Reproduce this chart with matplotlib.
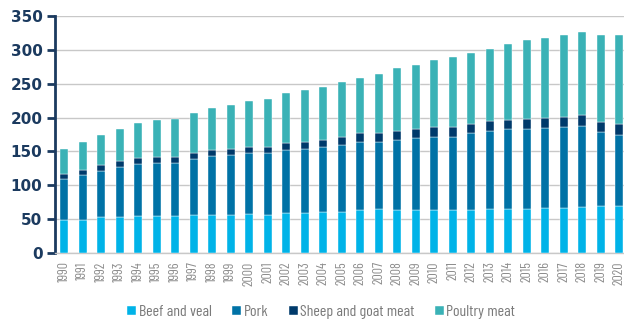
import matplotlib
matplotlib.use("Agg")
import matplotlib.pyplot as plt
import numpy as np

years = [str(y) for y in range(1990, 2021)]
beef_top = [48, 49, 53.5, 53.5, 55, 55, 55, 56.5, 56.5, 56.5, 58, 56.5, 59.4, 59.4, 61, 61, 64, 65, 64, 64, 64, 64, 64, 65, 65, 65, 66.8, 66.8, 68, 69.7, 69.7]
pork_top = [109.5, 115, 121, 127, 131, 133, 133, 138.5, 143, 144, 147, 147, 151.7, 153, 157, 159.5, 163.5, 163.5, 166.4, 169.4, 172, 172, 176.7, 179.7, 182.6, 182.6, 184, 185.6, 187, 178, 175]
sheep_top = [117, 123, 130.5, 136.5, 141, 142, 142, 148, 152.7, 154, 157, 157, 163, 164.5, 167.4, 171, 176.7, 176.7, 179.7, 182.6, 185.6, 185.6, 190, 194.4, 196.4, 198, 199.3, 200.8, 203.7, 193, 190]
total = [153, 163.5, 174, 183, 192, 197, 198, 206.7, 214.5, 218.5, 225, 227, 236.6, 241, 245.5, 252, 259, 265, 272.5, 277, 285.7, 290, 296, 302, 308, 314, 317, 321.5, 326, 321.5, 321.5]

beef = np.array(beef_top)
pork = np.array(pork_top) - np.array(beef_top)
sheep = np.array(sheep_top) - np.array(pork_top)
poultry = np.array(total) - np.array(sheep_top)

series_names = ["Beef and veal", "Pork", "Sheep and goat meat", "Poultry meat"]
colors = ["#00B3E8", "#0072A6", "#003A6B", "#3AB2B6"]

COND = ["Barlow Condensed", "DejaVu Sans"]

fig = plt.figure(figsize=(6.24, 3.2), dpi=100)
ax = fig.add_axes([55/624, 67/320, 1 - 55/624, (253-16)/320])

x = np.arange(len(years))
bottom = np.zeros(len(years))
handles = []
for vals, c, name in zip([beef, pork, sheep, poultry], colors, series_names):
    h = ax.bar(x, vals, bottom=bottom, width=0.42, color=c, label=name, zorder=3,
               edgecolor="white", linewidth=0.3)
    handles.append(h)
    bottom = bottom + vals

ax.set_xlim(-0.5, 30.25)
ax.set_ylim(0, 350)
ax.set_yticks(range(0, 351, 50))
ax.yaxis.grid(True, color="#C8C8C8", linewidth=1.0, zorder=0)
ax.set_axisbelow(True)

for s in ["top", "right"]:
    ax.spines[s].set_visible(False)
ax.spines["bottom"].set_color("#C8C8C8")
ax.spines["bottom"].set_linewidth(1.0)
ax.spines["left"].set_color("#1B3A5F")
ax.spines["left"].set_linewidth(2.0)

ax.tick_params(axis="y", colors="#1B3A5F", length=6, width=2, direction="out", pad=3)
for lab in ax.get_yticklabels():
    lab.set_fontsize(11)
    lab.set_fontweight("bold")
    lab.set_color("#1B3A5F")
    lab.set_family(["DejaVu Sans"])

ax.set_xticks(x)
ax.set_xticklabels(years, rotation=90, fontsize=10, color="#8C8C8C", family=COND)
ax.tick_params(axis="x", length=0, pad=6)

leg = fig.legend(handles=handles, labels=series_names, loc="center",
                 bbox_to_anchor=(0.515, 0.025), ncol=4, frameon=False,
                 handlelength=0.55, handleheight=0.55, handletextpad=0.15,
                 columnspacing=1.3, prop={"family": COND, "size": 11.5})
for t in leg.get_texts():
    t.set_color("#7A7A7A")

fig.savefig("out.png", dpi=100)
